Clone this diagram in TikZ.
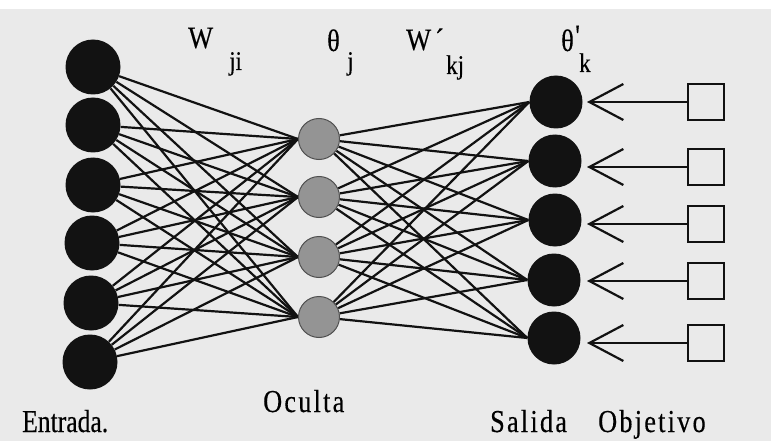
\documentclass[tikz,border=0pt]{standalone}
\usepackage{fontspec}
\setmainfont{Liberation Serif}
\newfontfamily\labfont[FakeStretch=0.82,LetterSpace=7,FakeBold=0.3]{Liberation Serif}
\newfontfamily\tightfont[FakeStretch=0.8,FakeBold=0.3]{Liberation Serif}
\newfontfamily\symfont[FakeStretch=0.85,FakeBold=0.3]{Liberation Serif}
\usetikzlibrary{arrows.meta}
\pgfdeclarelayer{paper}
\pgfdeclarelayer{edges}
\pgfsetlayers{paper,edges,main}
\definecolor{paperbg}{RGB}{234,234,234}
\definecolor{ink}{RGB}{18,18,18}
\definecolor{hidfill}{RGB}{148,148,148}
\definecolor{hidline}{RGB}{80,80,80}
\begin{document}
\begin{tikzpicture}[x=1pt,y=-1pt,
  inunit/.style={circle, fill=ink, minimum size=55pt, inner sep=0pt},
  hidunit/.style={circle, fill=hidfill, draw=hidline, line width=1pt, minimum size=41pt, inner sep=0pt},
  outunit/.style={circle, fill=ink, minimum size=53pt, inner sep=0pt},
  target/.style={rectangle, draw=ink, line width=2.5pt, minimum size=36pt, inner sep=0pt},
  link/.style={draw=ink, line width=2.2pt},
  feed/.style={draw=ink, line width=2.2pt, -{Straight Barb[length=34pt,width=36pt,line width=2.2pt]}},
  toplab/.style={font=\symfont\fontsize{31}{31}\selectfont, anchor=base west, inner sep=0pt},
  sublab/.style={font=\symfont\fontsize{27}{27}\selectfont, anchor=base west, inner sep=0pt},
  caption/.style={font=\labfont\fontsize{32}{32}\selectfont, anchor=base west, inner sep=0pt},
  tightcaption/.style={font=\tightfont\fontsize{32}{32}\selectfont, anchor=base west, inner sep=0pt},
]
\begin{pgfonlayer}{paper}
  \fill[paperbg] (0,0) rectangle (771,441);
  \fill[white] (0,0) rectangle (771,9);
\end{pgfonlayer}
\useasboundingbox (0,0) rectangle (771,441);

% input layer
\node[inunit] (i1) at (93,67) {};
\node[inunit] (i2) at (93,125) {};
\node[inunit] (i3) at (93,185) {};
\node[inunit] (i4) at (92,243) {};
\node[inunit] (i5) at (91,303) {};
\node[inunit] (i6) at (90,362) {};

% hidden layer
\node[hidunit] (h1) at (319,139) {};
\node[hidunit] (h2) at (319,197) {};
\node[hidunit] (h3) at (319,257) {};
\node[hidunit] (h4) at (319,317) {};

% output layer
\node[outunit] (o1) at (556,102) {};
\node[outunit] (o2) at (555,161) {};
\node[outunit] (o3) at (555,220) {};
\node[outunit] (o4) at (554,280) {};
\node[outunit] (o5) at (554,338) {};

% target boxes
\node[target] (t1) at (706,102) {};
\node[target] (t2) at (706,167) {};
\node[target] (t3) at (706,224) {};
\node[target] (t4) at (706,281) {};
\node[target] (t5) at (706,343) {};

% arrow tips next to the output units
\coordinate (a1) at (587,102);
\coordinate (a2) at (587,167);
\coordinate (a3) at (587,224);
\coordinate (a4) at (587,281);
\coordinate (a5) at (587,343);

\begin{pgfonlayer}{edges}
  \foreach \i in {1,...,6}
    \foreach \j in {1,...,4}
      \draw[link] (i\i) -- (h\j.west);
  \foreach \j in {1,...,4}
    \foreach \k in {1,...,5}
      \draw[link] (h\j) -- (o\k.west);
\end{pgfonlayer}

\foreach \k in {1,...,5}
  \draw[feed] (t\k.west) -- (a\k);

% weight and threshold labels
\node[toplab] (wlab) at (188,48) {W};
\node[sublab] (wsub) at (229,70) {ji};
\node[toplab] (tlab) at (327,51) {θ};
\node[sublab] (tsub) at (347,70) {j};
\node[toplab] (w2lab) at (406,50) {W};
\node[toplab] (w2acc) at (435,50) {´};
\node[sublab] (w2sub) at (446,74) {kj};
\node[toplab] (t2lab) at (561,51) {θ};
\node[toplab] (t2pr) at (575,46) {'};
\node[sublab] (t2sub) at (579,72) {k};

% layer captions
\node[tightcaption] (cin) at (22,432) {Entrada.};
\node[caption] (chid) at (263,412) {Oculta};
\node[caption] (cout) at (490,432) {Salida};
\node[caption] (ctgt) at (598,432) {Objetivo};
\end{tikzpicture}
\end{document}
